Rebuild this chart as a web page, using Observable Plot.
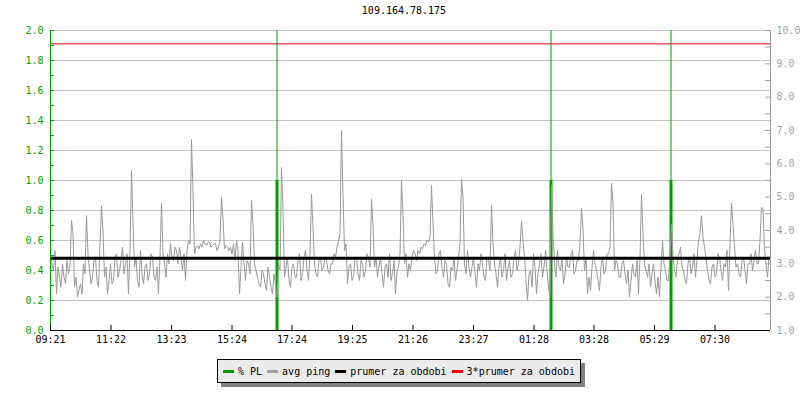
<!DOCTYPE html>
<html>
<head>
<meta charset="utf-8">
<script src="https://cdn.jsdelivr.net/npm/d3@7"></script>
<script src="https://cdn.jsdelivr.net/npm/@observablehq/plot@0.6"></script>
<style>
  html, body { margin: 0; padding: 0; background: #fff; }
  #wrap { position: relative; width: 800px; height: 400px; font-family: "DejaVu Sans Mono", monospace; }
  #title { position: absolute; top: 5px; left: 0; width: 808px; text-align: center; font-size: 10px; color: #000; }
  #chart { position: absolute; top: 0; left: 0; }
  #legend { position: absolute; left: 217px; top: 359px; width: 362px; height: 22px; background: #ebebeb;
            border: 1px solid #000; box-shadow: 4px 4px 0 #808080; display: flex; align-items: center;
            font-size: 10px; color: #000; box-sizing: content-box; }
  .item { display: flex; align-items: center; margin-left: 5px; white-space: pre; }
  .sw { width: 11px; height: 3px; margin-right: 4px; }
</style>
</head>
<body>
<div id="wrap">
  <div id="chart"></div>
  <div id="title"></div>
  <div id="legend"></div>
</div>
<script>
// ---- data ----
const titleText = "109.164.78.175";
const timeTickMinutes = [0, 121, 242, 363, 483, 604, 725, 846, 967, 1087, 1208, 1329];
const timeTickLabels = ["09:21", "11:22", "13:23", "15:24", "17:24", "19:25", "21:26", "23:27", "01:28", "03:28", "05:29", "07:30"];
const sampleMinutes = 3;   // spacing of avg ping samples (minutes)
const avgPing = [ // ms (right axis)
  3.3,3.0, 2.8,3.4, 2.1,2.9, 2.6,2.3, 3.0,2.6, 2.4,3.1, 2.7,2.9, 4.3,3.9, 2.3,2.6, 2.0,2.2,
  2.4,2.1, 3.0,2.7, 4.45,3.3, 2.8,2.4, 2.6,3.1, 3.2,2.5, 2.3,3.6, 4.72,4.0, 2.6,2.9, 2.1,2.5,
  3.0,2.4, 2.5,3.2, 3.3,2.6, 2.8,3.1, 3.5,2.7, 3.0,3.3, 2.1,3.4, 5.8,4.25, 2.9,3.2, 2.5,2.3,
  3.4,2.7, 2.4,2.9, 3.0,2.5, 2.7,3.3, 3.2,2.6, 2.5,2.9, 2.1,3.2, 4.82,3.3, 3.0,2.6, 3.3,3.0,
  3.6,3.2, 3.1,3.5, 3.4,3.0, 3.5,3.2, 2.8,3.3, 2.5,3.4, 3.7,3.6, 6.73,5.15, 3.3,3.5, 3.55,3.45,
  3.6,3.5, 3.7,3.6, 3.55,3.65, 3.65,3.5, 3.55,3.6, 3.6,3.4, 3.5,3.7, 5.0,4.35, 3.45,3.55, 3.5,3.4,
  3.5,3.3, 3.6,3.1, 3.7,3.4, 2.1,2.9, 3.65,3.0, 2.5,3.1, 3.0,2.7, 4.9,4.2, 3.0,2.8, 2.6,2.4,
  2.3,2.8, 2.7,2.4, 2.2,2.9, 2.6,2.3, 2.1,2.7, 2.4,2.0, 3.0,2.8, 5.9,4.6, 2.6,2.9, 3.2,2.5,
  2.3,2.9, 3.0,2.6, 2.6,3.1, 3.3,2.5, 2.7,3.2, 3.4,2.8, 2.5,3.3, 5.08,4.1, 3.0,2.7, 2.6,3.1,
  3.2,2.8, 2.9,3.2, 3.1,2.8, 2.7,3.0, 3.0,3.3, 3.2,3.5, 3.7,3.9, 7.0,5.1, 3.4,3.6, 2.4,2.9,
  3.0,2.5, 2.6,3.2, 3.2,2.7, 2.5,3.1, 3.0,2.6, 2.8,3.3, 3.2,2.9, 4.95,4.15, 2.9,3.2, 2.6,2.9,
  3.2,2.7, 2.3,2.9, 3.0,2.6, 3.3,2.5, 2.7,3.1, 2.1,2.8, 2.9,3.3, 5.5,4.45, 3.0,3.3, 2.6,3.0,
  2.8,3.2, 3.4,3.3, 3.1,3.4, 3.3,3.5, 3.45,3.6, 3.55,3.7, 3.65,3.8, 5.35,4.2, 3.2,2.7, 2.8,3.3,
  3.4,2.9, 2.6,3.1, 3.0,2.4, 2.3,2.9, 2.8,3.2, 2.5,2.8, 3.2,3.6, 5.55,5.0, 3.0,2.7, 3.4,2.9,
  2.6,2.9, 3.2,2.7, 2.3,3.0, 2.8,3.3, 3.0,2.6, 2.5,3.2, 3.1,2.8, 4.75,3.6, 3.0,2.7, 2.3,2.9,
  3.2,2.6, 2.8,3.3, 2.5,2.9, 3.1,2.6, 2.7,3.2, 3.4,2.8, 3.0,3.5, 4.28,3.7, 3.2,2.5, 1.9,2.7,
  2.8,2.3, 3.3,2.9, 2.1,2.7, 3.0,3.3, 2.6,2.9, 3.4,2.8, 2.3,2.0, 5.37,3.9, 3.0,2.6, 3.4,2.9,
  2.8,3.2, 2.4,2.7, 3.2,2.9, 2.9,3.3, 3.4,2.7, 2.8,3.1, 3.1,3.6, 4.68,4.05, 2.8,3.2, 2.1,2.6,
  2.2,2.9, 3.4,3.0, 2.8,2.5, 2.2,2.9, 3.2,2.7, 2.8,3.3, 3.3,3.5, 5.42,4.8, 2.8,3.1, 3.0,2.6,
  2.6,3.0, 3.1,2.7, 2.4,2.8, 2.0,2.5, 3.0,2.7, 2.6,3.1, 2.1,3.2, 5.08,3.9, 3.0,2.8, 2.6,3.0,
  2.3,2.7, 3.0,2.5, 2.1,2.6, 2.0,2.9, 3.7,3.0, 2.8,2.5, 2.5,3.2, 4.18,3.2, 2.8,2.6, 3.1,3.3,
  3.5,2.9, 2.8,2.5, 2.4,3.0, 3.2,2.7, 2.9,3.3, 2.6,3.1, 3.7,3.9, 4.45,3.8, 3.5,3.2, 2.8,2.5,
  2.4,2.9, 3.0,2.6, 2.7,3.3, 3.2,2.8, 2.5,3.0, 2.9,3.4, 2.2,3.6, 4.82,4.2, 3.5,2.9, 3.0,2.7,
  2.6,3.1, 3.2,2.8, 2.4,3.0, 3.0,3.3, 2.8,3.1, 3.4,3.0, 3.0,3.7, 4.7,4.65, 3.4,3.0, 2.6,3.2
];
const plMinutes = [453, 1001, 1241];   // packet-loss events
const plValue = [1.0, 1.0, 1.0];       // % PL (left axis)
const plPeak = [2.0, 2.0, 2.0];        // clipped peak (left axis)
const prumer = 3.17;                   // ms, average for period
const prumer3 = 9.6;                   // ms, 3*average line as drawn
const leftTicks = [0, 0.2, 0.4, 0.6, 0.8, 1.0, 1.2, 1.4, 1.6, 1.8, 2.0];
const leftMinorTicks = [0.1, 0.3, 0.5, 0.7, 0.9, 1.1, 1.3, 1.5, 1.7, 1.9];
const rightTicks = [1, 2, 3, 4, 5, 6, 7, 8, 9, 10];
const rightMinorTicks = [1.5, 2.5, 3.5, 4.5, 5.5, 6.5, 7.5, 8.5, 9.5];
const legendItems = [
  {label: "% PL", color: "#00a000"},
  {label: "avg ping", color: "#a0a0a0"},
  {label: "prumer za obdobi", color: "#000000"},
  {label: "3*prumer za obdobi", color: "#ee0000"}
];

// ---- helpers ----
const GREEN = "#00a000";
const msToLeft = ms => (ms - 1) / 4.5;   // right axis (1..10 ms) onto left axis (0..2)
const ping = avgPing.map((v, i) => ({t: i * sampleMinutes, v}));
const pl = plMinutes.map((t, i) => ({t, v: plValue[i], p: plPeak[i]}));

const chart = Plot.plot({
  width: 800, height: 400,
  marginLeft: 50, marginRight: 30, marginTop: 30, marginBottom: 70,
  x: {domain: [0, 1440], axis: null},
  y: {domain: [0, 2], axis: null},
  style: {fontFamily: "DejaVu Sans Mono", fontSize: "10px", background: "transparent", overflow: "visible"},
  marks: [
    Plot.ruleY(leftTicks.slice(1), {stroke: "#c4c4c4", strokeWidth: 1}),
    Plot.ruleY(leftTicks.concat(leftMinorTicks), {stroke: GREEN, insetRight: 716}),
    Plot.ruleY(rightTicks.concat(rightMinorTicks), {y: msToLeft, stroke: "#a0a0a0", insetLeft: 715}),
    Plot.ruleY([prumer3], {y: msToLeft, stroke: "#dd0000", strokeWidth: 1}),
    Plot.ruleX(pl, {x: "t", y1: 0, y2: "p", stroke: GREEN, strokeWidth: 1}),
    Plot.ruleX(pl, {x: "t", y1: 0, y2: "v", stroke: GREEN, strokeWidth: 3}),
    Plot.line(ping, {x: "t", y: d => msToLeft(d.v), stroke: "#999999", strokeWidth: 1}),
    Plot.ruleY([prumer], {y: msToLeft, stroke: "#000", strokeWidth: 3}),
    Plot.ruleX([0], {stroke: GREEN}),
    Plot.ruleX([1440], {stroke: "#a0a0a0"}),
    Plot.ruleY([0], {stroke: "#000"}),
    Plot.ruleX(timeTickMinutes, {stroke: "#000", insetTop: 295}),
    Plot.axisX(timeTickMinutes, {tickSize: 0, tickPadding: 5, fill: "#000", label: null,
      tickFormat: d => timeTickLabels[timeTickMinutes.indexOf(d)]}),
    Plot.axisY(leftTicks, {anchor: "left", tickSize: 0, tickPadding: 7, fill: GREEN, label: null,
      tickFormat: d => d.toFixed(1)}),
    Plot.axisY(rightTicks.map(msToLeft), {anchor: "right", tickSize: 0, tickPadding: 6, fill: "#a0a0a0", label: null,
      tickFormat: d => (1 + d * 4.5).toFixed(1)})
  ]
});
document.getElementById("chart").appendChild(chart);
document.getElementById("title").textContent = titleText;

const legend = document.getElementById("legend");
for (const it of legendItems) {
  const el = document.createElement("div");
  el.className = "item";
  const sw = document.createElement("div");
  sw.className = "sw";
  sw.style.background = it.color;
  el.appendChild(sw);
  el.appendChild(document.createTextNode(it.label));
  legend.appendChild(el);
}
</script>
</body>
</html>
